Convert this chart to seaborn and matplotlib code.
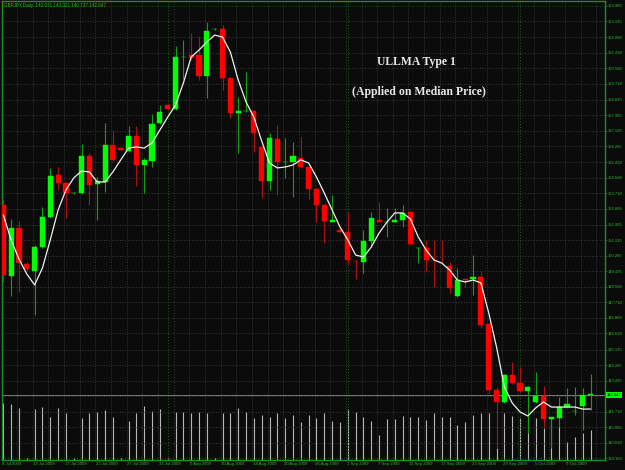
import numpy as np
import pandas as pd
import matplotlib
matplotlib.use("Agg")
import matplotlib.pyplot as plt
import matplotlib.transforms as mtransforms
import seaborn as sns

# ---------------- data ----------------
title_text = "GBPJPY,Daily  142.031 143.021 140.737 142.647"
date_labels = ["8 Jul 2009", "13 Jul 2009", "17 Jul 2009", "22 Jul 2009", "27 Jul 2009",
               "31 Jul 2009", "5 Aug 2009", "10 Aug 2009", "14 Aug 2009", "20 Aug 2009",
               "26 Aug 2009", "1 Sep 2009", "7 Sep 2009", "11 Sep 2009", "17 Sep 2009",
               "23 Sep 2009", "29 Sep 2009", "5 Oct 2009", "9 Oct 2009"]
opens = [153.07, 149.17, 151.80, 149.83, 149.44, 150.76, 152.41, 154.71, 154.27, 153.70,
         153.72, 155.75, 154.22, 154.33, 156.36, 156.17, 156.03, 156.85, 155.26, 155.48,
         157.57, 158.55, 158.33, 161.16, 161.30, 161.30, 160.14, 162.70, 162.72, 160.03,
         158.14, 158.20, 158.22, 156.25, 154.38, 156.69, 155.40, 155.43, 155.65, 155.15,
         153.94, 153.07, 152.16, 151.67, 151.58, 150.02, 149.94, 151.09, 152.22, 152.11,
         152.16, 152.24, 152.68, 150.68, 150.71, 150.02, 149.91, 149.72, 148.07, 148.98,
         149.03, 149.12, 146.54, 142.92, 142.26, 143.74, 143.30, 142.86, 142.26, 142.59,
         141.35, 141.38, 141.98, 141.74, 142.031, 142.62]
closes = [149.23, 151.80, 149.88, 149.55, 150.76, 152.41, 154.66, 154.27, 153.72, 153.75,
          155.75, 154.16, 154.38, 156.36, 155.54, 156.11, 156.85, 155.26, 155.54, 157.51,
          158.17, 158.33, 161.19, 161.21, 161.13, 160.14, 162.61, 162.75, 160.03, 158.11,
          158.20, 158.25, 157.02, 154.38, 156.74, 155.43, 155.45, 155.75, 155.15, 153.94,
          153.07, 152.19, 152.22, 151.61, 150.05, 149.97, 151.09, 152.35, 152.16, 152.16,
          152.22, 152.63, 150.93, 150.73, 150.05, 149.97, 149.86, 148.51, 148.95, 148.93,
          149.09, 146.48, 142.92, 142.26, 143.74, 143.30, 142.86, 143.08, 142.59, 141.32,
          141.41, 141.98, 142.15, 141.79, 142.647, 142.647]
highs = [153.34, 152.30, 152.19, 149.94, 150.87, 152.96, 155.10, 155.15, 154.33, 153.78,
         156.41, 155.92, 154.60, 157.57, 157.13, 156.19, 157.40, 157.40, 155.65, 158.06,
         158.55, 158.61, 161.79, 162.12, 162.50, 162.34, 163.11, 162.78, 162.94, 160.09,
         158.99, 160.36, 158.28, 156.30, 157.02, 157.46, 156.74, 156.52, 156.80, 155.21,
         154.00, 153.12, 153.62, 151.86, 152.68, 150.05, 151.69, 152.68, 153.23, 152.90,
         152.90, 153.07, 152.74, 150.76, 151.15, 151.15, 151.15, 149.94, 149.61, 149.01,
         150.32, 149.39, 146.59, 143.08, 143.79, 144.45, 144.18, 143.13, 143.90, 143.13,
         141.43, 142.53, 143.03, 143.08, 143.021, 143.79]
lows = [148.85, 148.07, 148.29, 149.44, 147.03, 150.71, 152.35, 153.89, 152.35, 153.67,
        153.67, 153.07, 152.24, 153.78, 155.48, 156.08, 155.97, 154.11, 153.72, 155.15,
        157.51, 158.28, 158.28, 159.98, 161.02, 159.93, 158.94, 162.67, 159.38, 157.84,
        155.92, 158.17, 155.97, 153.45, 153.89, 153.62, 154.55, 153.51, 155.10, 153.40,
        152.13, 150.98, 152.13, 151.58, 149.77, 149.01, 149.34, 150.76, 152.13, 151.31,
        152.13, 151.86, 150.87, 149.88, 149.39, 148.57, 149.83, 148.24, 148.02, 148.57,
        148.13, 146.32, 142.75, 139.73, 142.20, 143.24, 142.81, 140.56, 142.20, 140.89,
        139.73, 140.89, 141.93, 141.54, 140.737, 141.80]
ullma = [152.52, 151.15, 150.10, 149.28, 148.68, 149.61, 151.15, 152.79, 153.89, 154.55,
         154.93, 154.88, 154.33, 154.33, 154.88, 155.54, 156.19, 156.25, 156.19, 156.47,
         157.18, 157.89, 158.55, 159.76, 161.19, 161.57, 162.01, 162.39, 162.28, 161.46,
         159.93, 158.72, 157.89, 156.58, 155.37, 155.10, 155.15, 155.26, 155.54, 155.37,
         154.60, 153.72, 152.79, 151.86, 151.15, 150.32, 150.21, 150.76, 151.53, 152.13,
         152.63, 152.63, 152.30, 151.31, 150.60, 150.05, 149.88, 149.50, 148.95, 148.84,
         148.95, 148.79, 147.14, 145.27, 143.08, 142.20, 141.71, 141.49, 141.93, 142.26,
         141.98, 141.98, 141.98, 141.98, 141.87, 141.87]
volumes = [5700, 5600, 5200, 200, 5100, 5300, 4300, 5200, 4700, 200,
           4200, 4700, 4800, 5000, 4300, 200, 3900, 4700, 5400, 4900,
           5100, 200, 4800, 4800, 4700, 4800, 4700, 200, 4700, 4700,
           5200, 4800, 4200, 4500, 4300, 4700, 4200, 4500, 3800, 4500,
           4200, 4700, 3900, 3800, 5100, 4800, 4300, 3900, 2500, 4100,
           4100, 4400, 4300, 4300, 4000, 4700, 4300, 4300, 3500, 3800,
           4500, 4700, 4700, 1200, 4700, 4400, 4200, 3700, 4200, 3200,
           3700, 3500, 1800, 2300, 2700, 3000]
price_ticks = [163.985, 163.135, 162.268, 161.418, 160.568, 159.718, 158.835, 157.985,
               157.126, 156.285, 155.418, 154.568, 153.718, 152.868, 151.985, 151.135,
               150.285, 149.435, 148.568, 147.718, 146.868, 146.018, 145.135, 144.285,
               143.435, 142.585, 141.718, 140.868, 140.018, 139.168]
bid_price = 142.647
month_starts = [21, 44, 66]      # bar index of first bar of Aug, Sep, Oct

df = pd.DataFrame({"open": opens, "high": highs, "low": lows, "close": closes,
                   "ullma": ullma, "volume": volumes})
df["bar"] = np.arange(len(df))
df["up"] = df["close"] >= df["open"]

# ---------------- style ----------------
sns.set_style("dark")
plt.rcParams["font.family"] = ["Liberation Sans", "DejaVu Sans"]
BG = "#0b0b0b"
GREEN_TXT = "#22c022"
FRAME = "#1f8f1f"

fig = plt.figure(figsize=(6.25, 4.7), dpi=100, facecolor=BG)
rect = [2/625, 10/470, 603/625, 459/470]
ax_v = fig.add_axes(rect)
ax = fig.add_axes(rect)
ax_v.set_facecolor(BG)
ax.patch.set_visible(False)

xlo, xhi = -0.166, 76.85
ax.set_xlim(xlo, xhi)
ax_v.set_xlim(xlo, xhi)
ax.set_ylim(139.074, 164.259)

# grid
for p in price_ticks:
    ax.axhline(p, color="#4a4a4a", lw=0.6, ls=(0, (1, 2.2)), zorder=0)
for g in np.arange(1.75, xhi, 2):
    ax.axvline(g, color="#4a4a4a", lw=0.6, ls=(0, (1, 2.2)), zorder=0)
for m in month_starts:
    ax.axvline(m, color="#0e6e0e", lw=0.7, ls=(0, (1, 2)), zorder=0)

# volumes (bottom overlay)
ax_v.set_ylim(0, 45900)
ax_v.vlines(df["bar"], 0, df["volume"], color="#b8b8b8", lw=0.8)
ax_v.set_xticks([])
ax_v.set_yticks([])
ax_v.tick_params(axis="both", length=0, labelbottom=False, labelleft=False)
for s in ax_v.spines.values():
    s.set_visible(False)

# bid line
ax.axhline(bid_price, color="#7a7a7a", lw=0.7, zorder=1)

# candles
wick_col = np.where(df["up"], "#10a010", "#b01010")
ax.vlines(df["bar"], df["low"], df["high"], colors=wick_col, lw=0.8, zorder=2)
body_lo = np.minimum(df["open"], df["close"])
body_h = np.maximum(np.abs(df["close"] - df["open"]), 0.05)
body_col = np.where(df["up"], "#00ff00", "#ff0000")
ax.bar(df["bar"], body_h, bottom=body_lo, width=0.66, color=body_col,
       edgecolor=body_col, linewidth=0.3, zorder=3)

# ULLMA line
sns.lineplot(data=df, x="bar", y="ullma", ax=ax, color="#f0f0f0", lw=0.9, zorder=4)
ax.set_xlabel("")
ax.set_ylabel("")

# axes styling
ax.yaxis.tick_right()
ax.set_yticks(price_ticks)
ax.set_yticklabels([f"{p:.3f}" for p in price_ticks])
ax.tick_params(axis="y", colors=FRAME, labelcolor=GREEN_TXT, labelsize=3.0,
               length=1.2, width=0.5, pad=0.8)
ax.set_xticks(np.arange(len(date_labels)) * 4 - 0.15)
ax.set_xticklabels(date_labels, ha="left")
ax.tick_params(axis="x", colors=FRAME, labelcolor=GREEN_TXT, labelsize=3.1,
               length=0.8, width=0.5, pad=0.6)
for s in ax.spines.values():
    s.set_color(FRAME)
    s.set_linewidth(1.0)
ax.grid(False)
ax_v.grid(False)

# bid label on the price scale
trans = mtransforms.blended_transform_factory(ax.transAxes, ax.transData)
ax.text(1.003, bid_price, f"{bid_price:.3f}", transform=trans, ha="left", va="center",
        fontsize=3.0, color="#000000", zorder=6,
        bbox=dict(boxstyle="square,pad=0.25", fc="#00ff00", ec="none"))

# header text
fig.text(4/625, 1 - 3/470, title_text, color=GREEN_TXT, fontsize=3.3, ha="left", va="top")

# annotation
fig.text(416/625, 1 - 62/470, "ULLMA Type 1", color="#e8e8e8", fontsize=8.5,
         family=["Liberation Serif", "DejaVu Serif"], weight="bold", ha="center", va="center")
fig.text(419/625, 1 - 92/470, "(Applied on Median Price)", color="#e8e8e8", fontsize=8.5,
         family=["Liberation Serif", "DejaVu Serif"], weight="bold", ha="center", va="center")

fig.savefig("out.png", dpi=100, facecolor=BG)
